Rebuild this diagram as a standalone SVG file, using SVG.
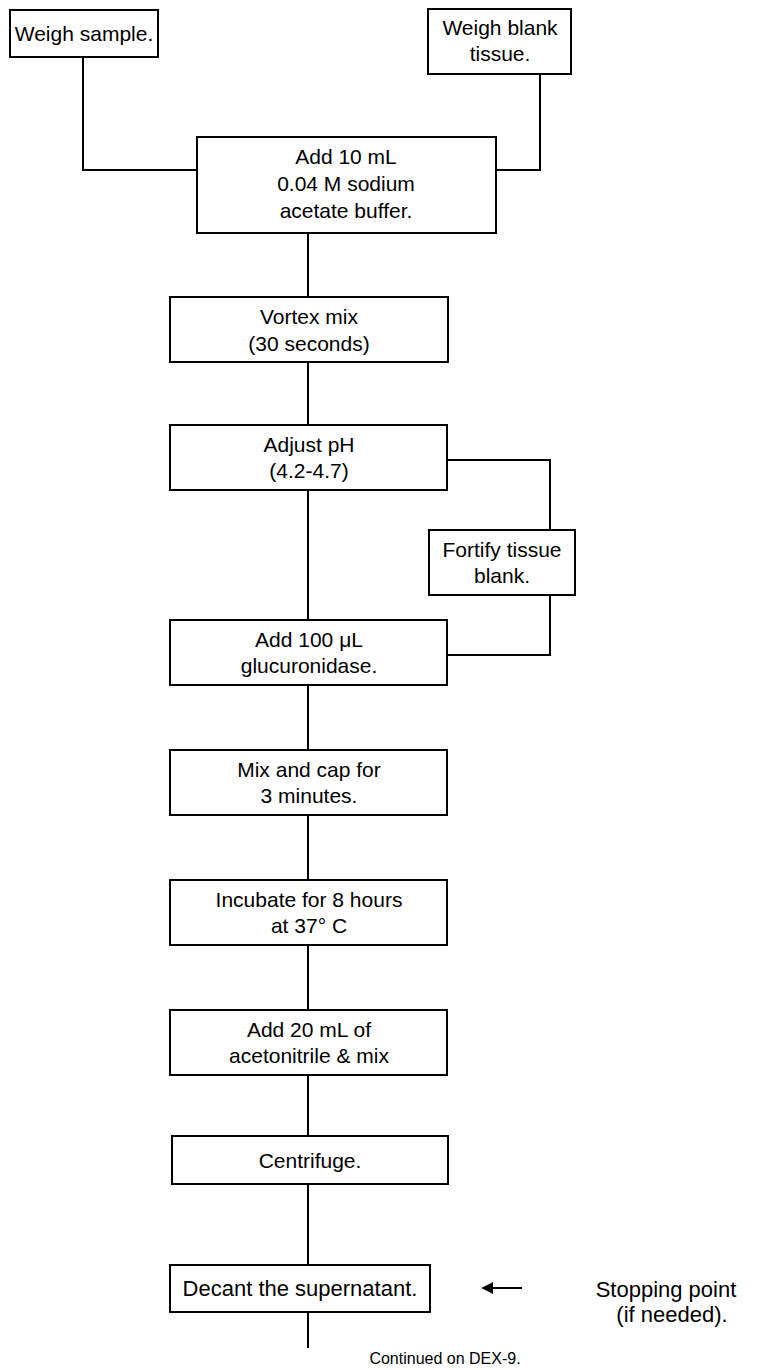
<svg xmlns="http://www.w3.org/2000/svg" width="777" height="1370" viewBox="0 0 777 1370">
<style>
.box{fill:#fff;stroke:#000;stroke-width:2}
.c{fill:none;stroke:#000;stroke-width:2}
text{font-family:"Liberation Sans",Arial,sans-serif;font-size:21px;fill:#000;text-anchor:middle}
.small{font-size:16px}
.note{font-size:22px}
</style>
<defs>
<marker id="ah" viewBox="0 0 10 10" refX="1" refY="5" markerWidth="6" markerHeight="6" orient="auto-start-reverse">
<path d="M0,0 L10,5 L0,10 z" fill="#000"/>
</marker>
</defs>
<rect width="777" height="1370" fill="#fff"/>
<g id="connectors">
<path class="c" d="M83,57 V170 H197"/>
<path class="c" d="M540,74 V170 H496"/>
<path class="c" d="M308,233 V297"/>
<path class="c" d="M308,362 V425"/>
<path class="c" d="M447,460 H550 V530"/>
<path class="c" d="M550,595 V655 H447"/>
<path class="c" d="M308,490 V620"/>
<path class="c" d="M308,685 V750"/>
<path class="c" d="M308,815 V880"/>
<path class="c" d="M308,945 V1010"/>
<path class="c" d="M308,1075 V1136"/>
<path class="c" d="M308,1184 V1265"/>
<path class="c" d="M308,1312 V1348"/>
<path class="c" d="M522,1288 H492" marker-end="url(#ah)"/>
</g>
<g id="n1"><rect class="box" x="10" y="10" width="148" height="47"/><text x="84" y="41">Weigh sample.</text></g>
<g id="n2"><rect class="box" x="428" y="9" width="143" height="65"/><text x="500" y="35">Weigh blank</text><text x="500" y="61">tissue.</text></g>
<g id="n3"><rect class="box" x="197" y="137" width="299" height="96"/><text x="346" y="164">Add 10 mL</text><text x="346" y="191">0.04 M sodium</text><text x="346" y="218">acetate buffer.</text></g>
<g id="n4"><rect class="box" x="170" y="297" width="278" height="65"/><text x="309" y="324">Vortex mix</text><text x="309" y="351">(30 seconds)</text></g>
<g id="n5"><rect class="box" x="170" y="425" width="277" height="65"/><text x="309" y="452">Adjust pH</text><text x="309" y="478">(4.2-4.7)</text></g>
<g id="n6"><rect class="box" x="429" y="530" width="146" height="65"/><text x="502" y="557">Fortify tissue</text><text x="502" y="583">blank.</text></g>
<g id="n7"><rect class="box" x="170" y="620" width="277" height="65"/><text x="309" y="647">Add 100 μL</text><text x="309" y="673">glucuronidase.</text></g>
<g id="n8"><rect class="box" x="170" y="750" width="277" height="65"/><text x="309" y="777">Mix and cap for</text><text x="309" y="803">3 minutes.</text></g>
<g id="n9"><rect class="box" x="170" y="880" width="277" height="65"/><text x="309" y="907">Incubate for 8 hours</text><text x="309" y="933">at 37° C</text></g>
<g id="n10"><rect class="box" x="170" y="1010" width="277" height="65"/><text x="309" y="1037">Add 20 mL of</text><text x="309" y="1063">acetonitrile &amp; mix</text></g>
<g id="n11"><rect class="box" x="172" y="1136" width="276" height="48"/><text x="310" y="1168">Centrifuge.</text></g>
<g id="n12"><rect class="box" x="170" y="1265" width="260" height="47"/><text x="300" y="1296" style="font-size:22px">Decant the supernatant.</text></g>
<g id="note"><text class="note" x="666" y="1297">Stopping point</text><text class="note" x="672" y="1322">(if needed).</text></g>
<g id="cont"><text class="small" x="445" y="1364">Continued on DEX-9.</text></g>
</svg>
